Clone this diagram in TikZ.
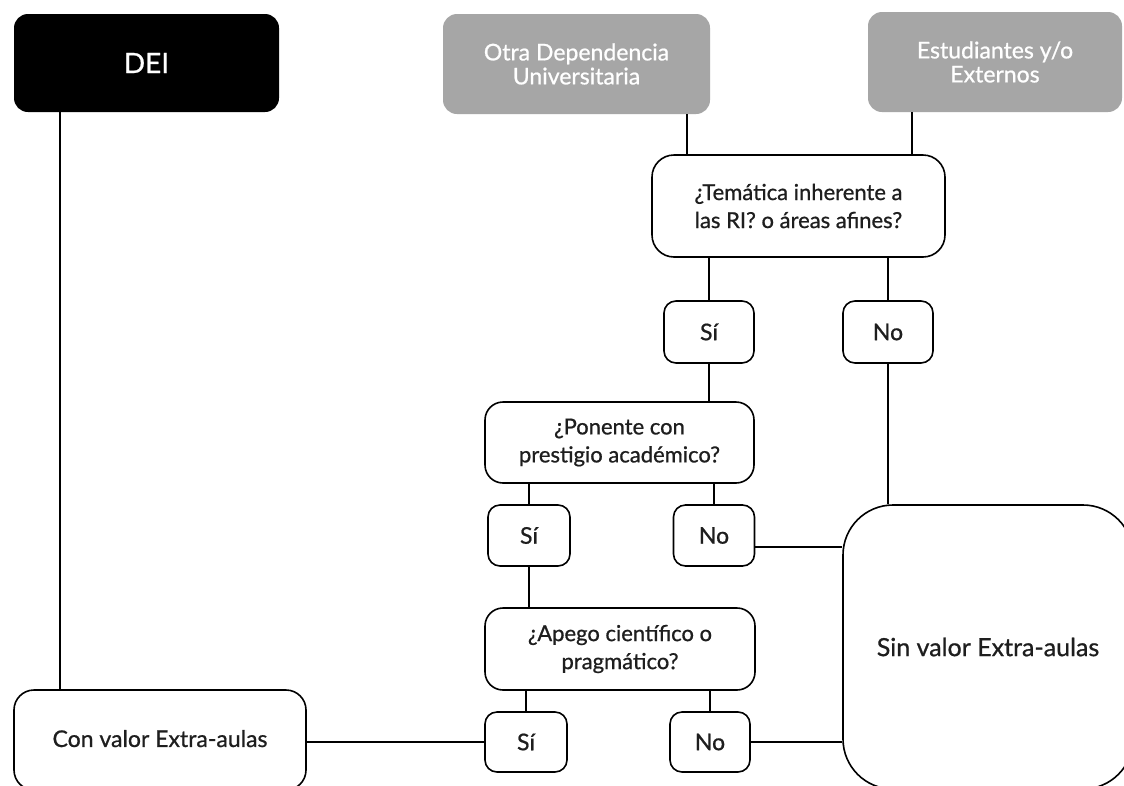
\documentclass[tikz,border=0pt]{standalone}
\usepackage{fontspec}
\setmainfont{Lato}[UprightFeatures={FakeBold=0.8}]
\definecolor{boxgray}{RGB}{166,166,166}
\definecolor{txt}{RGB}{30,30,30}
\begin{document}
\begin{tikzpicture}[x=1pt,y=-1pt,
  ln/.style={line width=1.6pt,draw=black},
  top/.style={rectangle,rounded corners=14pt,inner sep=0pt,align=center,text=white,
    font=\fontsize{23}{24}\selectfont},
  qbox/.style={rectangle,rounded corners=22pt,draw=black,line width=1.6pt,fill=white,inner sep=0pt,
    align=center,text=txt,font=\fontsize{22}{28}\selectfont},
  ans/.style={rectangle,rounded corners=12pt,draw=black,line width=1.6pt,fill=white,inner sep=0pt,
    text=txt,font=\fontsize{23}{28}\selectfont},
]
\clip (0,0) rectangle (1124,785);
\fill[white] (0,0) rectangle (1124,785);
% top boxes
\node[top,fill=black,minimum width=265pt,minimum height=98pt,font=\fontsize{28}{28}\selectfont] (dei) at (146.5,63) {DEI};
\node[top,fill=boxgray,minimum width=267pt,minimum height=100pt] (otra) at (576.5,64) {Otra Dependencia\\Universitaria};
\node[top,fill=boxgray,minimum width=254pt,minimum height=100pt] (est) at (995,62) {Estudiantes y/o\\Externos};
% questions
\node[qbox,minimum width=293pt,minimum height=102pt] (tem) at (798.5,206) {¿Temática inherente a\\las RI? o áreas afines?};
\node[qbox,minimum width=269pt,minimum height=81pt,rounded corners=18pt] (pon) at (619.5,442.5) {¿Ponente con\\prestigio académico?};
\node[qbox,minimum width=270pt,minimum height=82pt,rounded corners=18pt] (ape) at (620,649) {¿Apego científico o\\pragmático?};
% answers
\node[ans,minimum width=90pt,minimum height=62pt] (si1) at (709,332) {Sí};
\node[ans,minimum width=90pt,minimum height=62pt] (no1) at (888,332) {No};
\node[ans,minimum width=82pt,minimum height=61pt] (si2) at (529,535.5) {Sí};
\node[ans,minimum width=81pt,minimum height=61pt] (no2) at (714,535.5) {No};
\node[ans,minimum width=82pt,minimum height=60pt] (si3) at (526,742) {Sí};
\node[ans,minimum width=80pt,minimum height=60pt] (no3) at (710,742) {No};
% results
\node[qbox,minimum width=292pt,minimum height=100pt,rounded corners=20pt,font=\fontsize{23}{28}\selectfont] (con) at (160,740) {\raisebox{3pt}{Con valor Extra-aulas}};
\node[qbox,minimum width=290pt,minimum height=284pt,rounded corners=50pt,font=\fontsize{25}{28}\selectfont] (sin) at (988,647) {Sin valor Extra-aulas};
\coordinate (n2e) at ([yshift=-11.5pt]no2.east);
% connectors
\draw[ln] (dei.south -| 60,0) -- (con.north -| 60,0);
\draw[ln] (otra.south -| 687,0) -- (tem.north -| 687,0);
\draw[ln] (est.south -| 912,0) -- (tem.north -| 912,0);
\draw[ln] (tem.south -| si1.north) -- (si1.north);
\draw[ln] (tem.south -| no1.north) -- (no1.north);
\draw[ln] (si1.south) -- (pon.north -| si1.south);
\draw[ln] (no1.south) -- (sin.north -| no1.south);
\draw[ln] (pon.south -| si2.north) -- (si2.north);
\draw[ln] (pon.south -| no2.north) -- (no2.north);
\draw[ln] (n2e) -- (sin.west |- n2e);
\draw[ln] (si2.south) -- (ape.north -| si2.south);
\draw[ln] (ape.south -| si3.north) -- (si3.north);
\draw[ln] (ape.south -| no3.north) -- (no3.north);
\draw[ln] (si3.west) -- (con.east |- si3.west);
\draw[ln] (no3.east) -- (sin.west |- no3.east);
\end{tikzpicture}
\end{document}
